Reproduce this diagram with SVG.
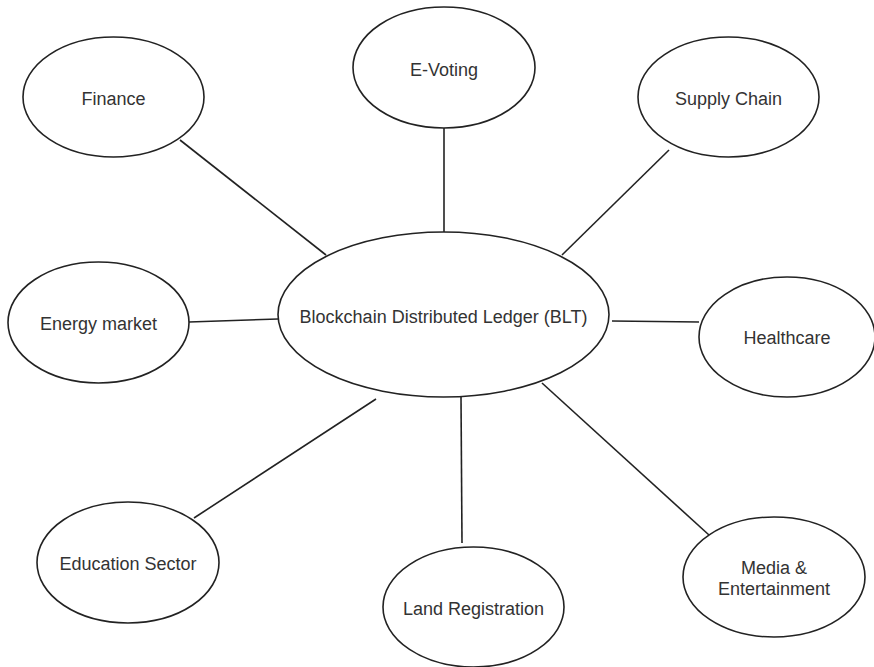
<svg xmlns="http://www.w3.org/2000/svg" width="874" height="667" viewBox="0 0 874 667">
<style>
.n ellipse{fill:#fff;stroke:#222;stroke-width:1.6}
.n text{font-family:"Liberation Sans",Arial,sans-serif;font-size:18px;fill:#333;text-anchor:middle}
#edges line{stroke:#222;stroke-width:1.6}
</style>
<rect width="874" height="667" fill="#fff"/>
<g id="edges">
<line x1="180" y1="140" x2="326" y2="255"/>
<line x1="444" y1="128" x2="444" y2="232"/>
<line x1="669" y1="150" x2="562" y2="255"/>
<line x1="189" y1="322" x2="278" y2="319"/>
<line x1="612" y1="321" x2="699" y2="322"/>
<line x1="194" y1="518" x2="376" y2="399"/>
<line x1="461" y1="397" x2="462" y2="543"/>
<line x1="542" y1="383" x2="709" y2="535"/>
</g>
<g id="center" class="n"><ellipse cx="443.5" cy="314.5" rx="165.5" ry="82.5"/><text x="443.5" y="323">Blockchain Distributed Ledger (BLT)</text></g>
<g id="finance" class="n"><ellipse cx="113.5" cy="97" rx="90.5" ry="60"/><text x="113.5" y="105">Finance</text></g>
<g id="evoting" class="n"><ellipse cx="444" cy="67.5" rx="91" ry="60.5"/><text x="444" y="76">E-Voting</text></g>
<g id="supply" class="n"><ellipse cx="728.5" cy="97" rx="90.5" ry="60"/><text x="728.5" y="105">Supply Chain</text></g>
<g id="energy" class="n"><ellipse cx="98.5" cy="322.5" rx="90.5" ry="60.5"/><text x="98.5" y="330">Energy market</text></g>
<g id="health" class="n"><ellipse cx="787" cy="337" rx="88" ry="60"/><text x="787" y="344">Healthcare</text></g>
<g id="education" class="n"><ellipse cx="128" cy="562.5" rx="91" ry="60.5"/><text x="128" y="570">Education Sector</text></g>
<g id="land" class="n"><ellipse cx="473.5" cy="607" rx="90.5" ry="60"/><text x="473.5" y="615">Land Registration</text></g>
<g id="media" class="n"><ellipse cx="774" cy="577" rx="91" ry="60"/><text x="774" y="574">Media &amp;</text><text x="774" y="595">Entertainment</text></g>
</svg>
